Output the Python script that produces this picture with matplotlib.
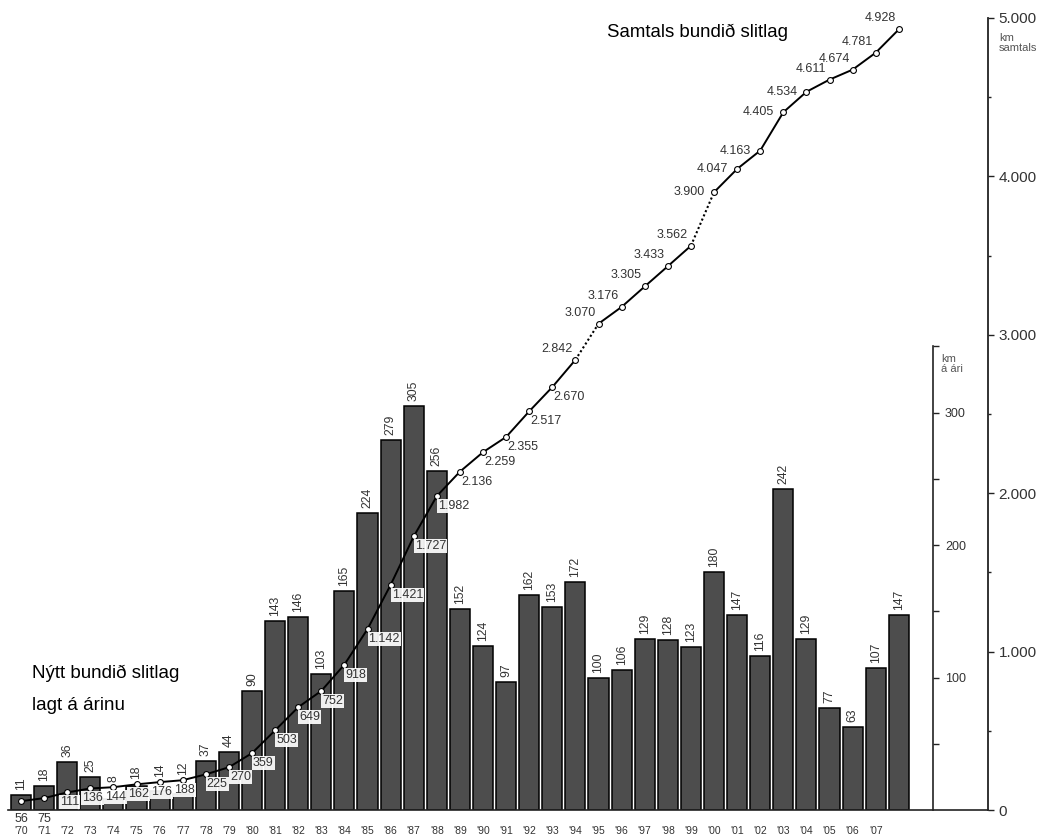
import numpy as np
import matplotlib
matplotlib.use("Agg")
import matplotlib.pyplot as plt
from matplotlib.ticker import FixedLocator, FuncFormatter

plt.rcParams["font.family"] = ["Liberation Sans", "DejaVu Sans"]

# ---- data ----
years = list(range(1970, 2009))
annual_km = [11, 18, 36, 25, 8, 18, 14, 12, 37, 44, 90, 143, 146, 103, 165, 224, 279, 305, 256,
             152, 124, 97, 162, 153, 172, 100, 106, 129, 128, 123, 180, 147, 116, 242, 129,
             77, 63, 107, 147]
total_km = [56, 75, 111, 136, 144, 162, 176, 188, 225, 270, 359, 503, 649, 752, 918, 1142, 1421,
            1727, 1982, 2136, 2259, 2355, 2517, 2670, 2842, 3070, 3176, 3305, 3433, 3562, 3900,
            4047, 4163, 4405, 4534, 4611, 4674, 4781, 4928]
tick_years = [f"'{y % 100:02d}" for y in years[:-1]]
dotted_gaps = [1995, 2000]  # segment ending at these years is dotted (gap in records)

BAR = "#4d4d4d"
TXT = "#333333"
AX = "#222222"
YMAX_BAR, YMAX_TOT = 598, 5000

fig = plt.figure(figsize=(10.45, 8.4), dpi=100)
ax = fig.add_axes([8/1045, 30/840, 980/1045, 792/840])
x = np.arange(len(years))

ax.bar(x, annual_km, width=0.87, color=BAR, edgecolor="black", linewidth=1.1, zorder=2)
for i, v in enumerate(annual_km):
    base = v
    if i < 10:  # small early bars: keep label clear of the total line
        base = max(v, total_km[i] * YMAX_BAR / YMAX_TOT)
    ax.annotate(str(v), (i, base), xytext=(0, 5), textcoords="offset pixels",
                rotation=90, ha="center", va="bottom", fontsize=8.7, color=TXT)

ax.set_xlim(-0.563, 41.86)
ax.set_ylim(0, YMAX_BAR)
ax.set_xticks(x[:-1])
ax.set_xticklabels(tick_years, fontsize=7.5, color=TXT)
ax.tick_params(axis="x", length=0, pad=11.5)

for s in ["left", "top"]:
    ax.spines[s].set_visible(False)
ax.spines["bottom"].set_color(AX)
ax.spines["bottom"].set_linewidth(1.2)

# ---- cumulative axis ----
ax2 = ax.twinx()
ax2.set_ylim(0, YMAX_TOT)
for s in ["left", "top", "bottom"]:
    ax2.spines[s].set_visible(False)
ax2.spines["right"].set_bounds(0, 5000)
ax2.spines["right"].set_color(AX)
ax2.spines["right"].set_linewidth(1.3)
ax2.yaxis.set_major_locator(FixedLocator([0, 1000, 2000, 3000, 4000, 5000]))
ax2.yaxis.set_minor_locator(FixedLocator([500, 1500, 2500, 3500, 4500]))
ax2.yaxis.set_major_formatter(FuncFormatter(lambda v, p: f"{int(v):,}".replace(",", ".")))
ax2.tick_params(axis="y", which="major", length=4.5, width=1, color=AX,
                labelsize=11, labelcolor=TXT, pad=3)
ax2.tick_params(axis="y", which="minor", length=2.5, width=1, color=AX)
ax2.text(1.011, 0.981, "km\nsamtals", transform=ax2.transAxes, fontsize=8, color="#555555",
         ha="left", va="top", linespacing=0.95)

# inner annual axis (set after twinx, which moves ticks to the left)
ax.spines["right"].set_visible(True)
ax.spines["right"].set_position(("data", 39.48))
ax.spines["right"].set_bounds(0, 350)
ax.spines["right"].set_color(AX)
ax.spines["right"].set_linewidth(1.2)
ax.yaxis.tick_right()
ax.yaxis.set_major_locator(FixedLocator([100, 200, 300]))
ax.yaxis.set_minor_locator(FixedLocator([50, 150, 250, 350]))
ax.tick_params(axis="y", which="both", length=4.5, width=1, color=AX,
               labelsize=9, labelcolor=TXT, pad=4, left=False, labelleft=False,
               right=True, labelright=True)
ax.text(39.83, 344, "km\ná ári", fontsize=8, color="#555555",
        ha="left", va="top", linespacing=0.95)

# ---- cumulative line ----
start = 0
breaks = [years.index(y) for y in dotted_gaps] + [len(years)]
for b in breaks:
    ax2.plot(x[start:b], total_km[start:b], color="black", lw=1.4, zorder=3,
             solid_capstyle="round")
    if b < len(years):
        ax2.plot(x[b-1:b+1], total_km[b-1:b+1], color="black", lw=1.5, ls=(0, (1, 1.2)), zorder=3)
    start = b
ax2.plot(x, total_km, ls="none", marker="o", ms=4.2, mfc="white", mec="black", mew=0.8, zorder=4)

for i, v in enumerate(total_km):
    lab = f"{v:,}".replace(",", ".")
    box = None
    if i < 2:
        xy, off, ha, va = (i, 0), (0, -3), "center", "top"
    elif i < 8:
        xy, off, ha, va = (i, v), (2, -4), "center", "top"
    elif i < 24:
        xy, off, ha, va = (i, v), (1, -4), "left", "top"
    elif 30 <= i <= 34:
        xy, off, ha, va = (i, v), (-9, 0), "right", "center"
    else:
        xy, off, ha, va = (i, v), (-3, 5), "right", "bottom"
    if 2 <= i <= 18:
        box = dict(boxstyle="square,pad=0.08", fc="white", ec="none", alpha=0.92)
    ax2.annotate(lab, xy, xytext=off, textcoords="offset pixels", ha=ha, va=va,
                 fontsize=9, color=TXT, bbox=box, zorder=5, annotation_clip=False)

fig.text(607/1045, 1 - 32/840, "Samtals bundið slitlag", fontsize=13.4, ha="left", va="center")
fig.text(32/1045, 1 - 673/840, "Nýtt bundið slitlag", fontsize=13.5, ha="left", va="center")
fig.text(32/1045, 1 - 705/840, "lagt á árinu", fontsize=13.5, ha="left", va="center")

fig.savefig("out.png", dpi=100)
